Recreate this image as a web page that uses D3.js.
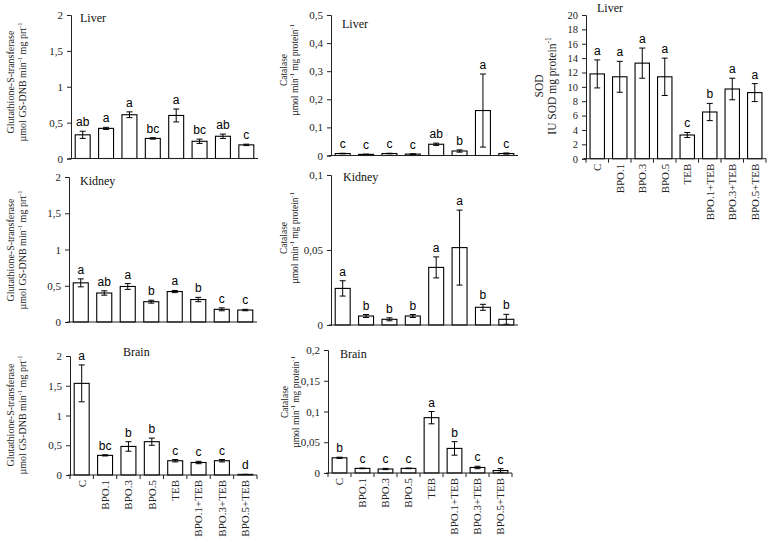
<!DOCTYPE html>
<html><head><meta charset="utf-8">
<script src="https://cdn.jsdelivr.net/npm/d3@7"></script>
<style>
html,body{margin:0;padding:0;background:#fff;}
svg{display:block;}
</style></head>
<body>
<svg id="chart" width="769" height="538"></svg>
<script>
// ---- data ----
const categories = ["C","BPO.1","BPO.3","BPO.5","TEB","BPO.1+TEB","BPO.3+TEB","BPO.5+TEB"];

const gstLiverMean = [0.33,0.42,0.61,0.28,0.60,0.24,0.31,0.19];
const gstLiverErr  = [0.05,0.015,0.04,0.01,0.09,0.03,0.03,0.01];
const gstLiverLetters = ["ab","a","a","bc","a","bc","ab","c"];

const catLiverMean = [0.007,0.004,0.007,0.005,0.040,0.016,0.160,0.007];
const catLiverErr  = [0.001,0.001,0.001,0.001,0.004,0.004,0.130,0.002];
const catLiverLetters = ["c","c","c","c","ab","b","a","c"];

const sodLiverMean = [11.8,11.4,13.3,11.4,3.3,6.5,9.7,9.2];
const sodLiverErr  = [1.95,2.15,2.1,2.6,0.35,1.2,1.5,1.25];
const sodLiverLetters = ["a","a","a","a","c","b","a","a"];

const gstKidneyMean = [0.54,0.40,0.49,0.28,0.42,0.31,0.175,0.165];
const gstKidneyErr  = [0.055,0.03,0.04,0.02,0.015,0.03,0.02,0.01];
const gstKidneyLetters = ["a","ab","a","b","a","b","c","c"];

const catKidneyMean = [0.0244,0.006,0.0038,0.006,0.0384,0.0516,0.0118,0.0038];
const catKidneyErr  = [0.0051,0.001,0.001,0.001,0.007,0.025,0.002,0.0033];
const catKidneyLetters = ["a","b","b","b","a","a","b","b"];

const gstBrainMean = [1.54,0.33,0.48,0.56,0.24,0.21,0.24,0.01];
const gstBrainErr  = [0.31,0.01,0.08,0.06,0.02,0.02,0.02,0.002];
const gstBrainLetters = ["a","bc","b","b","c","c","c","d"];

const catBrainMean = [0.0247,0.0075,0.0065,0.0075,0.090,0.040,0.009,0.004];
const catBrainErr  = [0.001,0.0005,0.001,0.0005,0.010,0.011,0.002,0.003];
const catBrainLetters = ["b","c","c","c","a","b","c","c"];

const gstTicks = [0,0.5,1,1.5,2];
const catLiverTicks = [0,0.1,0.2,0.3,0.4,0.5];
const sodTicks = [0,2,4,6,8,10,12,14,16,18,20];
const catKidneyTicks = [0,0.05,0.1];
const catBrainTicks = [0,0.05,0.1,0.15,0.2];

const gstTitle = ["Glutathione-S-transferase", [["µmol GS-DNB min"],["-1","sup"],[" mg prt"],["-1","sup"]]];
const catTitle = ["Catalase", [["µmol min"],["-1","sup"],[" mg protein"],["-1","sup"]]];
const sodTitle = ["SOD", [["IU SOD mg protein"],["-1","sup"]]];

// ---- layout ----
const panels = [
  {mean:gstLiverMean, err:gstLiverErr, letters:gstLiverLetters, ticks:gstTicks, title:gstTitle, organ:"Liver",
   x0:71, x1:258, yTop:15, yBot:158.5, organX:80, organY:22, tX:14, tY:82, tFs:10, tLh:12, xlab:false},
  {mean:catLiverMean, err:catLiverErr, letters:catLiverLetters, ticks:catLiverTicks, title:catTitle, organ:"Liver",
   x0:331, x1:518, yTop:15, yBot:155.5, organX:342, organY:28, tX:287, tY:70, tFs:9.5, tLh:10.5, xlab:false},
  {mean:sodLiverMean, err:sodLiverErr, letters:sodLiverLetters, ticks:sodTicks, title:sodTitle, organ:"Liver",
   x0:586, x1:766, yTop:15, yBot:158.7, organX:597, organY:12, tX:543, tY:86, tFs:11.5, tLh:12.5, xlab:true},
  {mean:gstKidneyMean, err:gstKidneyErr, letters:gstKidneyLetters, ticks:gstTicks, title:gstTitle, organ:"Kidney",
   x0:69, x1:257, yTop:177, yBot:322, organX:80, organY:185, tX:14, tY:250, tFs:10, tLh:12, xlab:false},
  {mean:catKidneyMean, err:catKidneyErr, letters:catKidneyLetters, ticks:catKidneyTicks, title:catTitle, organ:"Kidney",
   x0:331, x1:518, yTop:175, yBot:325, organX:343, organY:181, tX:287, tY:238, tFs:9.5, tLh:10.5, xlab:false},
  {mean:gstBrainMean, err:gstBrainErr, letters:gstBrainLetters, ticks:gstTicks, title:gstTitle, organ:"Brain",
   x0:70, x1:257, yTop:356, yBot:475, organX:123, organY:356, tX:14, tY:415, tFs:10, tLh:12, xlab:true},
  {mean:catBrainMean, err:catBrainErr, letters:catBrainLetters, ticks:catBrainTicks, title:catTitle, organ:"Brain",
   x0:328, x1:512, yTop:350, yBot:473, organX:340, organY:358, tX:288, tY:402, tFs:9.5, tLh:10.5, xlab:true}
];

const SERIF = "'Liberation Serif','Times New Roman',serif";
const SANS = "'Liberation Sans',Arial,sans-serif";
const locale = d3.formatLocale({decimal:",", thousands:".", grouping:[3], currency:["",""]});
const fmt = locale.format("~g");
const svg = d3.select("#chart");

panels.forEach(p => {
  const g = svg.append("g");
  const maxV = p.ticks[p.ticks.length-1];
  const x = d3.scaleBand().domain(categories).range([p.x0, p.x1]).paddingInner(0.36).paddingOuter(0.18);
  const y = d3.scaleLinear().domain([0, maxV]).range([p.yBot, p.yTop]);
  const data = categories.map((c,i)=>({c, m:p.mean[i], e:p.err[i], l:p.letters[i]}));

  // bars
  g.selectAll("rect.bar").data(data).join("rect")
    .attr("x", d=>x(d.c)).attr("width", x.bandwidth())
    .attr("y", d=>y(d.m)).attr("height", d=>p.yBot - y(d.m))
    .attr("fill","#fff").attr("stroke","#000").attr("stroke-width",1.1);

  // error bars
  const cap = 3;
  data.forEach(d=>{
    const cx = x(d.c) + x.bandwidth()/2;
    const yt = y(d.m + d.e), yb = y(Math.max(0, d.m - d.e));
    g.append("line").attr("x1",cx).attr("x2",cx).attr("y1",yt).attr("y2",yb).attr("stroke","#000").attr("stroke-width",1);
    g.append("line").attr("x1",cx-cap).attr("x2",cx+cap).attr("y1",yt).attr("y2",yt).attr("stroke","#000").attr("stroke-width",1);
    g.append("line").attr("x1",cx-cap).attr("x2",cx+cap).attr("y1",yb).attr("y2",yb).attr("stroke","#000").attr("stroke-width",1);
  });

  // letters
  g.selectAll("text.let").data(data).join("text")
    .attr("x", d=>x(d.c)+x.bandwidth()/2)
    .attr("y", d=>y(d.m+d.e)-5)
    .attr("text-anchor","middle")
    .attr("font-family",SANS).attr("font-size",12).attr("fill","#000")
    .text(d=>d.l);

  // y axis
  const ya = g.append("g").attr("transform",`translate(${p.x0},0)`)
    .call(d3.axisLeft(y).tickValues(p.ticks).tickFormat(fmt).tickSize(4).tickPadding(4));
  ya.select(".domain").attr("stroke","#222");
  ya.selectAll(".tick line").attr("stroke","#222");
  ya.selectAll("text").attr("font-family",SERIF).attr("font-size",p.ticks===sodTicks?10.5:11).attr("fill","#222");

  // x axis
  g.append("line").attr("x1",p.x0-2).attr("x2",p.x1).attr("y1",p.yBot).attr("y2",p.yBot).attr("stroke","#222");
  if (p.xlab) {
    const step = (p.x1 - p.x0)/categories.length;
    d3.range(categories.length+1).forEach(i=>{
      g.append("line").attr("x1",p.x0+i*step).attr("x2",p.x0+i*step).attr("y1",p.yBot).attr("y2",p.yBot+4).attr("stroke","#222");
    });
    g.selectAll("text.xl").data(categories).join("text")
      .attr("transform", c=>`translate(${x(c)+x.bandwidth()/2},${p.yBot+5}) rotate(-90)`)
      .attr("text-anchor","end").attr("dy","0.35em")
      .attr("font-family",SERIF).attr("font-size",11).attr("fill","#222")
      .text(c=>c);
  }

  // organ label
  g.append("text").attr("x",p.organX).attr("y",p.organY)
    .attr("font-family",SERIF).attr("font-size",12).attr("fill","#111").text(p.organ);

  // y title
  const tg = g.append("g").attr("transform",`translate(${p.tX},${p.tY}) rotate(-90)`);
  tg.append("text").attr("x",0).attr("y",0).attr("text-anchor","middle")
    .attr("font-family",SERIF).attr("font-size",p.tFs).attr("fill","#222").text(p.title[0]);
  const t2 = tg.append("text").attr("x",0).attr("y",p.tLh).attr("text-anchor","middle")
    .attr("font-family",SERIF).attr("font-size",p.tFs).attr("fill","#222");
  const shift = p.tFs*0.4;
  let raised = false;
  p.title[1].forEach(part=>{
    const ts = t2.append("tspan").text(part[0]);
    if (part[1]==="sup") {
      ts.attr("font-size",p.tFs*0.65).attr("dy",-shift);
      raised = true;
    } else if (raised) {
      ts.attr("dy",shift);
      raised = false;
    }
  });
});
</script>
</body></html>
